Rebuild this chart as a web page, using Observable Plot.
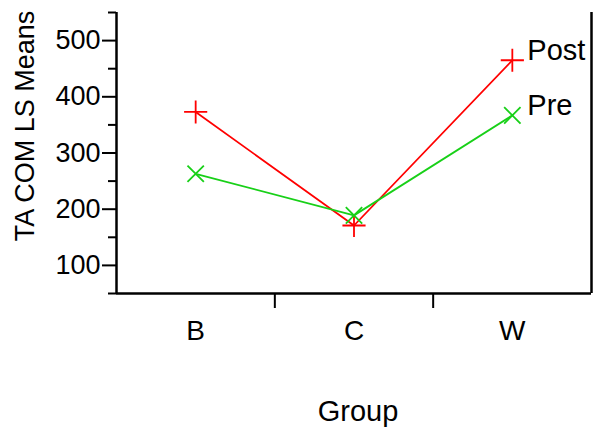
<!DOCTYPE html>
<html>
<head>
<meta charset="utf-8">
<script src="https://cdn.jsdelivr.net/npm/d3@7"></script>
<script src="https://cdn.jsdelivr.net/npm/@observablehq/plot@0.6"></script>
<style>
  html, body { margin: 0; padding: 0; background: white; }
</style>
</head>
<body>
<div id="chart"></div>
<script>
const groups = ["B", "C", "W"];
const seriesNames = ["Post", "Pre"];
const postValues = [373, 171, 465];
const preValues = [263, 189, 367];
const yMajorTicks = [100, 200, 300, 400, 500];
const yMinorTicks = [50, 150, 250, 350, 450, 550];
const yLabel = "TA COM LS Means";
const xLabel = "Group";

const data = groups.flatMap((g, i) => [
  {group: g, i, series: "Post", value: postValues[i]},
  {group: g, i, series: "Pre", value: preValues[i]}
]);

const xDomain = [-0.5, groups.length - 0.5];

const chart = Plot.plot({
  width: 600,
  height: 443,
  marginLeft: 116,
  marginRight: 9,
  marginTop: 12,
  marginBottom: 150,
  style: {fontFamily: "'Liberation Sans', Arial, sans-serif", background: "white", color: "black"},
  x: {type: "linear", domain: xDomain},
  y: {domain: [50, 550]},
  color: {domain: seriesNames, range: ["#ff0000", "#18d018"]},
  symbol: {domain: seriesNames, range: ["plus", "times"]},
  marks: [
    Plot.axisY({ticks: yMajorTicks, tickSize: 14, tickPadding: 2, fontSize: 27, label: null, strokeWidth: 2}),
    Plot.axisY({ticks: yMinorTicks, tickSize: 8, tickFormat: () => "", label: null, strokeWidth: 2}),
    Plot.axisX({ticks: groups.map((_, i) => i), tickSize: 0, tickPadding: 27, tickFormat: i => groups[i], fontSize: 28, label: null}),
    Plot.axisX({ticks: groups.slice(1).map((_, i) => i + 0.5), tickSize: 15, tickFormat: () => "", label: null, strokeWidth: 2}),
    Plot.ruleX(xDomain, {strokeWidth: 2.5}),
    Plot.ruleY([50], {strokeWidth: 2.5}),
    Plot.line(data, {x: "i", y: "value", z: "series", stroke: "series", strokeWidth: 1.8}),
    Plot.dot(data, {x: "i", y: "value", symbol: "series", stroke: "series", r: 7.5, strokeWidth: 1.8}),
    Plot.text(data, Plot.selectLast({x: "i", y: "value", z: "series", text: "series", dx: 15, dy: -10, textAnchor: "start", fontSize: 29, fill: "black"})),
    Plot.text([yLabel], {frameAnchor: "left", textAnchor: "middle", rotate: -90, dx: -91, dy: -27, fontSize: 27, fill: "black"}),
    Plot.text([xLabel], {frameAnchor: "bottom", textAnchor: "middle", dx: 4, dy: 127, fontSize: 29, fill: "black"})
  ]
});

document.getElementById("chart").appendChild(chart);
</script>
</body>
</html>
